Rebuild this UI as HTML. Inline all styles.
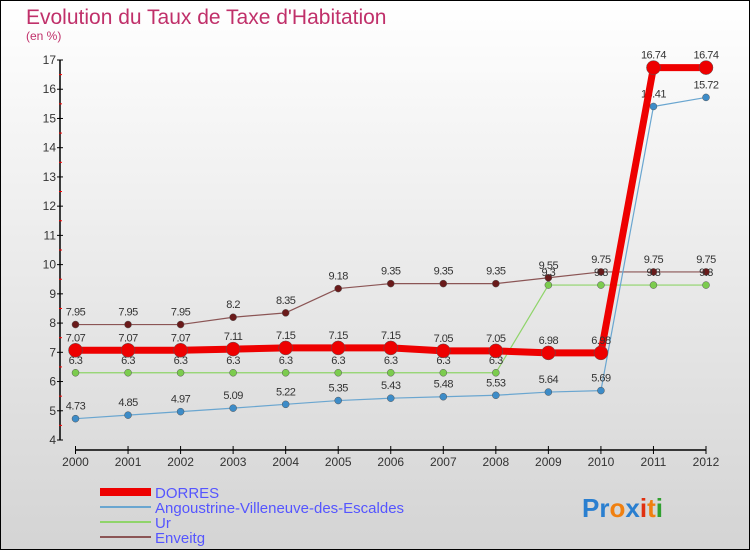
<!DOCTYPE html>
<html><head><meta charset="utf-8"><style>
html,body{margin:0;padding:0}
body{width:750px;height:550px;overflow:hidden;font-family:"Liberation Sans",sans-serif}
</style></head><body>
<svg width="750" height="550" xmlns="http://www.w3.org/2000/svg">
<defs><linearGradient id="bg" x1="0" y1="0" x2="0" y2="1"><stop offset="0" stop-color="#ffffff"/><stop offset="1" stop-color="#d4d4d4"/></linearGradient></defs>
<rect x="0.5" y="0.5" width="749" height="549" fill="url(#bg)" stroke="#000"/>
<text x="26" y="24" font-size="21" fill="#c0306a">Evolution du Taux de Taxe d'Habitation</text>
<text x="26" y="40" font-size="12" fill="#c0306a">(en %)</text>
<g id="axes"></g>
<g id="series"></g>
<g>
<rect x="100" y="488" width="51" height="8" fill="#ee0000"/>
<text x="155" y="498" font-size="15" fill="#5555ff">DORRES</text>
<rect x="100" y="506" width="51" height="2" fill="#6aa6d0"/>
<text x="155" y="513" font-size="15" fill="#5555ff">Angoustrine-Villeneuve-des-Escaldes</text>
<rect x="100" y="521" width="51" height="2" fill="#8fd46a"/>
<text x="155" y="528" font-size="15" fill="#5555ff">Ur</text>
<rect x="100" y="536" width="51" height="2" fill="#8b5555"/>
<text x="155" y="543" font-size="15" fill="#5555ff">Enveitg</text>
</g>
<text x="582" y="517" font-size="26" font-weight="bold"><tspan fill="#2a7fd0">Pr</tspan><tspan fill="#f08010">o</tspan><tspan fill="#2a7fd0">x</tspan><tspan fill="#e03010">i</tspan><tspan fill="#f08010">t</tspan><tspan fill="#30a030">i</tspan></text>
</svg>
<script>
const years=[2000,2001,2002,2003,2004,2005,2006,2007,2008,2009,2010,2011,2012];
const dorres=[7.07,7.07,7.07,7.11,7.15,7.15,7.15,7.05,7.05,6.98,6.98,16.74,16.74];
const angoustrine=[4.73,4.85,4.97,5.09,5.22,5.35,5.43,5.48,5.53,5.64,5.69,15.41,15.72];
const ur=[6.3,6.3,6.3,6.3,6.3,6.3,6.3,6.3,6.3,9.3,9.3,9.3,9.3];
const enveitg=[7.95,7.95,7.95,8.2,8.35,9.18,9.35,9.35,9.35,9.55,9.75,9.75,9.75];
const yTicks=[4,5,6,7,8,9,10,11,12,13,14,15,16,17];
const NS="http://www.w3.org/2000/svg";
function xs(i){return 75.5+i*(706-75.5)/12;}
function ys(v){return 440-(v-4)*(380/13);}
function mk(t,a,p){const e=document.createElementNS(NS,t);for(const k in a)e.setAttribute(k,a[k]);p.appendChild(e);return e;}
const ax=document.getElementById('axes'), sg=document.getElementById('series');
let yl=mk('line',{x1:60,y1:ys(17),x2:60,y2:440,stroke:'#000','stroke-width':1.5},ax);


yTicks.forEach(v=>{
 mk('line',{x1:57,x2:63,y1:ys(v),y2:ys(v),stroke:'#000'},ax);
 if(v<17) mk('line',{x1:59,x2:62,y1:ys(v+0.5),y2:ys(v+0.5),stroke:'#f00'},ax);
 const t=mk('text',{x:56,y:ys(v)+4,'font-size':12,'text-anchor':'end',fill:'#333'},ax);t.textContent=v;
 
 
});
let xl=mk('line',{x1:75.5,x2:706,y1:450,y2:450,stroke:'#000','stroke-width':1.5},ax);


years.forEach((y,i)=>{
 mk('line',{x1:xs(i),x2:xs(i),y1:446,y2:454,stroke:'#000'},ax);
 const t=mk('text',{x:xs(i),y:466,'font-size':12,'text-anchor':'middle',fill:'#333'},ax);t.textContent=y;
 
 
});
function series(vals,col,w,r,dot,name,labels){
 const g=mk('g',{},sg);
 
 
 mk('polyline',{points:vals.map((v,i)=>xs(i)+','+ys(v)).join(' '),fill:'none',stroke:col,'stroke-width':w,'stroke-linejoin':'round'},g);
 vals.forEach((v,i)=>{
  const c=mk('circle',{cx:xs(i),cy:ys(v),r:r,fill:dot,stroke:'#555','stroke-width':0.5},g);
  
  
  if(labels){const t=mk('text',{x:xs(i),y:ys(v)-9,'font-size':11,'text-anchor':'middle',fill:'#333','letter-spacing':'-0.5'},g);t.textContent=v;}
 });
}
series(enveitg,'#8b5555',1.2,3.5,'#6a1a1a','series-enveitg',true);
series(ur,'#8fd46a',1.2,3.5,'#7ccc4e','series-ur',true);
series(angoustrine,'#6aa6d0',1.2,3.5,'#3d8cc8','series-angoustrine',true);
series(dorres,'#ee0000',7,7,'#ee0000','series-dorres',true);
</script>
</body></html>
